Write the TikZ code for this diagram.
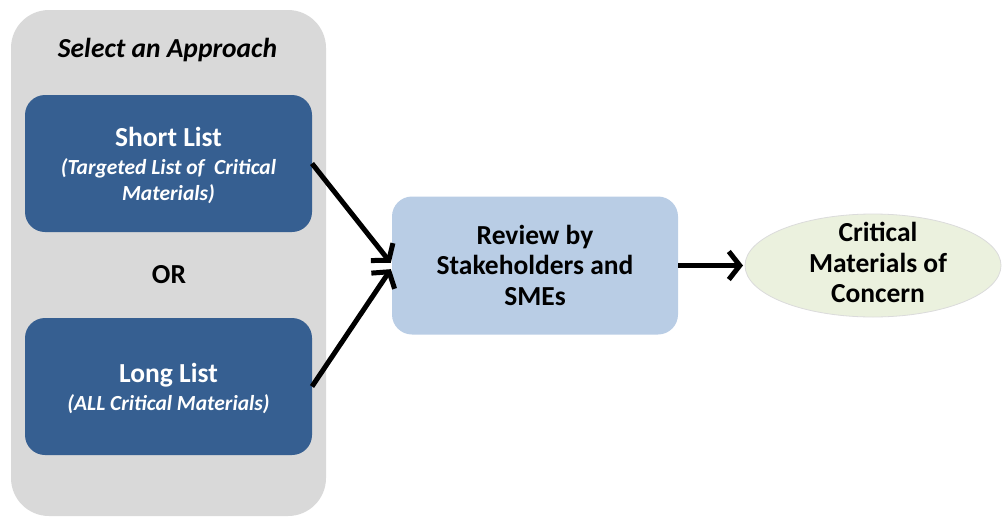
\documentclass[tikz,border=0pt]{standalone}
\usepackage{fontspec}
\setmainfont{Carlito}
\usetikzlibrary{arrows.meta,shapes.geometric}

\definecolor{panelgrey}{HTML}{D9D9D9}
\definecolor{listblue}{HTML}{365F91}
\definecolor{reviewblue}{HTML}{B9CDE5}
\definecolor{goalgreen}{HTML}{EBF1DE}

\tikzset{
  panel/.style={fill=panelgrey, rounded corners=38pt, minimum width=315pt,
    minimum height=506pt, inner sep=0pt, outer sep=0pt},
  listbox/.style={fill=listblue, rounded corners=20pt, minimum width=287pt,
    minimum height=137pt, inner sep=0pt, outer sep=0pt},
  reviewbox/.style={fill=reviewblue, rounded corners=20pt, minimum width=286pt,
    minimum height=138pt, inner sep=0pt, outer sep=0pt},
  goal/.style={ellipse, fill=goalgreen, draw=black!14, line width=0.8pt,
    minimum width=256pt, minimum height=103pt, inner sep=0pt, outer sep=0pt},
  headtext/.style={font=\fontsize{27.5}{30}\selectfont\bfseries, inner sep=0pt, anchor=base},
  subtext/.style={font=\fontsize{21.5}{26}\selectfont\bfseries\itshape, inner sep=0pt,
    anchor=base, text=white},
  blocktext/.style={font=\fontsize{27.5}{30.5}\selectfont\bfseries, align=center, inner sep=0pt},
  flow/.style={line width=5pt, -{Straight Barb[length=11pt,width=28pt]}, shorten >=2pt},
}

\begin{document}
\begin{tikzpicture}[x=1pt, y=-1pt]
\useasboundingbox (0,0) rectangle (1002,517);

% grey panel holding the two approaches
\node[panel] (panel) at (168.5,263) {};
\node[headtext, font=\fontsize{27.5}{30}\selectfont\bfseries\itshape] (select) at (167.5,57) {Select an Approach};

% short list
\node[listbox] (short) at (168.5,163.5) {};
\node[headtext, text=white] (shorttitle) at (168.5,146) {Short List};
\node[subtext] (shortsub1) at (168.5,174) {(Targeted List of\ \ Critical};
\node[subtext] (shortsub2) at (168.5,200) {Materials)};

\node[headtext] (or) at (169,283) {OR};

% long list
\node[listbox] (long) at (168.5,386.5) {};
\node[headtext, text=white] (longtitle) at (168.5,382) {Long List};
\node[subtext] (longsub) at (168.5,410) {(ALL Critical Materials)};

% review step
\node[reviewbox] (review) at (535,265.5) {};
\node[blocktext] (reviewtext) at (535,265) {Review by\\Stakeholders and\\SMEs};

% outcome
\node[goal] (goal) at (873,265.5) {};
\node[blocktext] (goaltext) at (878,262.5) {Critical\\Materials of\\Concern};

% connectors
\draw[flow] (short.east) -- ([yshift=1pt]review.west);
\draw[flow] (long.east) -- ([yshift=-2pt]review.west);
\draw[flow] (review.east) -- (goal.west);
\end{tikzpicture}
\end{document}
